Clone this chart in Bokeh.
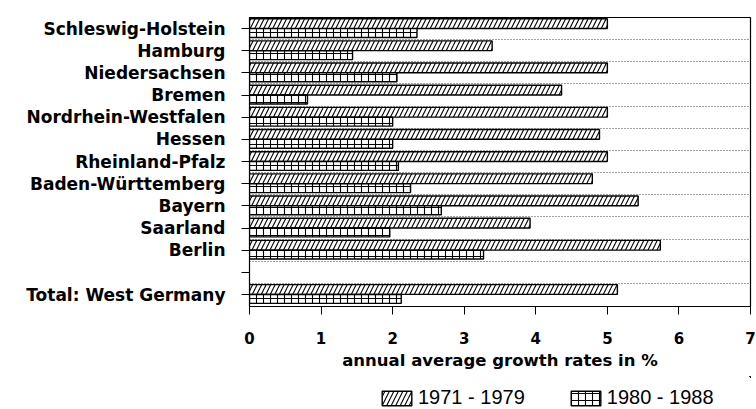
from bokeh.plotting import figure
from bokeh.layouts import column
from bokeh.models import ColumnDataSource, Range1d, FixedTicker, Legend, LegendItem
from bokeh.transform import dodge
from bokeh.embed import file_html
from bokeh.resources import INLINE

# ---- data ----
regions = ["Schleswig-Holstein", "Hamburg", "Niedersachsen", "Bremen",
           "Nordrhein-Westfalen", "Hessen", "Rheinland-Pfalz",
           "Baden-Württemberg", "Bayern", "Saarland", "Berlin", "",
           "Total: West Germany"]
growth_1971_1979 = [5.0, 3.39, 5.0, 4.36, 5.0, 4.89, 5.0, 4.79, 5.43, 3.92, 5.74, None, 5.14]
growth_1980_1988 = [2.34, 1.44, 2.06, 0.81, 2.0, 2.0, 2.08, 2.25, 2.68, 1.96, 3.27, None, 2.12]
x_ticks = [0, 1, 2, 3, 4, 5, 6, 7]
legend_labels = ["1971 - 1979", "1980 - 1988"]
x_title = "annual average growth rates in %"

n = len(regions)
positions = [n - 1 - i for i in range(n)]

rows = [(positions[i], growth_1971_1979[i], growth_1980_1988[i])
        for i in range(n) if growth_1971_1979[i] is not None]
src = ColumnDataSource(data=dict(
    pos=[r[0] for r in rows],
    a=[r[1] for r in rows],
    b=[r[2] for r in rows],
))

style_a = dict(fill_color="white", line_color="black", line_width=1.4,
               hatch_pattern="/", hatch_scale=9, hatch_weight=1.1, hatch_color="black")
style_b = dict(fill_color="white", line_color="black", line_width=1.4,
               hatch_pattern="+", hatch_scale=7, hatch_weight=1.1, hatch_color="black")

p = figure(width=756, height=376, output_backend="svg", toolbar_location=None,
           x_range=Range1d(0, 7), y_range=Range1d(-0.54, 12.5),
           min_border_left=249, min_border_right=6, min_border_top=17,
           min_border_bottom=70)

p.background_fill_color = "white"
p.border_fill_color = "white"
p.outline_line_color = "black"
p.outline_line_width = 1.2

p.hbar(y=dodge("pos", 0.225), right="a", left=0, height=0.44, source=src, **style_a)
p.hbar(y=dodge("pos", -0.2), right="b", left=0, height=0.40, source=src, **style_b)

# axes
p.xaxis.ticker = FixedTicker(ticks=x_ticks)
p.xaxis.axis_label = x_title
p.xaxis.axis_label_text_font = "DejaVu Sans"
p.xaxis.axis_label_text_font_style = "bold"
p.xaxis.axis_label_text_font_size = "16.5px"
p.xaxis.axis_label_text_color = "black"
p.xaxis.axis_label_standoff = 4
p.xaxis.major_label_text_font = "DejaVu Sans"
p.xaxis.major_label_text_font_style = "bold"
p.xaxis.major_label_text_font_size = "15px"
p.xaxis.major_label_text_color = "black"
p.xaxis.major_label_standoff = 17
p.xaxis.major_tick_in = 0
p.xaxis.major_tick_out = 8
p.xaxis.minor_tick_line_color = None
p.xaxis.axis_line_color = "black"

p.yaxis.ticker = FixedTicker(ticks=positions)
p.yaxis.major_label_overrides = {positions[i]: regions[i] for i in range(n)}
p.yaxis.major_label_text_font = "DejaVu Sans"
p.yaxis.major_label_text_font_style = "bold"
p.yaxis.major_label_text_font_size = "17px"
p.yaxis.major_label_text_color = "black"
p.yaxis.major_label_standoff = 16
p.yaxis.major_tick_in = 0
p.yaxis.major_tick_out = 8
p.yaxis.minor_tick_line_color = None

p.xgrid.grid_line_color = None
p.ygrid.ticker = FixedTicker(ticks=[k + 0.5 for k in range(n - 1)])
p.ygrid.grid_line_color = "#444444"
p.ygrid.grid_line_dash = "1 2"
p.ygrid.grid_line_width = 1

# legend strip below the chart (its bars lie outside its visible range;
# only the legend swatches show)
q = figure(width=756, height=33, output_backend="svg", toolbar_location=None,
           x_range=Range1d(-20, -19), y_range=Range1d(-20, -19), min_border=0)
q.axis.visible = False
q.grid.visible = False
q.outline_line_color = None
q.background_fill_color = "white"
q.border_fill_color = "white"
la = q.hbar(y="pos", right="a", left=0, height=0.4, source=src, **style_a)
lb = q.hbar(y="pos", right="b", left=0, height=0.4, source=src, **style_b)

legend = Legend(items=[LegendItem(label=legend_labels[0], renderers=[la]),
                       LegendItem(label=legend_labels[1], renderers=[lb])],
                orientation="horizontal", location=(129, 0),
                glyph_width=37, glyph_height=18, label_standoff=3, spacing=42,
                label_text_font="Liberation Sans", label_text_font_size="20px",
                label_text_color="black",
                border_line_color=None, background_fill_alpha=0,
                margin=0, padding=0)
q.add_layout(legend)

page = column(p, q, spacing=0)
open("out.html", "w").write(file_html(page, INLINE))
